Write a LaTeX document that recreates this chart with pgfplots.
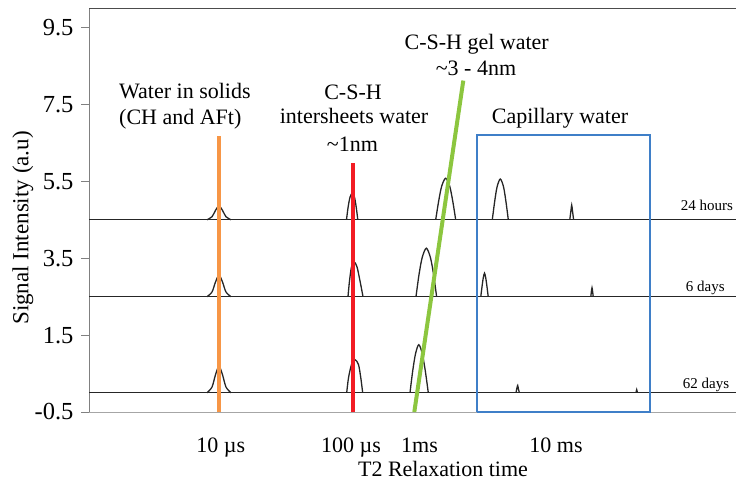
\documentclass[border=0pt]{standalone}
\usepackage{fontspec}
\setmainfont{Liberation Serif}
\usepackage{pgfplots}
\pgfplotsset{compat=1.18}
\definecolor{corange}{HTML}{F79646}
\definecolor{cred}{HTML}{F21C24}
\definecolor{cgreen}{HTML}{8CC63F}
\definecolor{cblue}{HTML}{3F7FC8}
\definecolor{trace}{HTML}{262626}
\begin{document}
\begin{tikzpicture}
\path[use as bounding box] (0pt,0pt) rectangle (736pt,482pt);
\begin{axis}[
 at={(89pt,70pt)}, anchor=south west,
 scale only axis, width=647pt, height=403.7pt,
 xmin=89, xmax=736, ymin=-0.5, ymax=10,
 axis x line*=bottom, axis y line*=left,
 x axis line style={-, draw=black!35, line width=0.8pt},
 y axis line style={-, draw=black!50, line width=0.8pt},
 ytick={-0.5,1.5,3.5,5.5,7.5,9.5},
 yticklabels={-0.5,1.5,3.5,5.5,7.5,9.5},
 yticklabel style={font=\fontsize{24.5}{28}\selectfont, xshift=-4pt},
 ytick style={draw=black!50, line width=0.8pt},
 tick align=outside, major tick length=8pt,
 xtick={220.8,351,419.5,556},
 xticklabels={10 µs,100 µs,1ms,10 ms},
 xtick style={draw=none},
 xticklabel style={font=\fontsize{22}{26}\selectfont, anchor=base, yshift=-33pt},
 clip=false,
 trc/.style={trace, line width=1.3pt},
 pk/.style={trace, line width=1.3pt, smooth},
]
\draw[black!70, line width=1pt] (rel axis cs:0,1) -- (rel axis cs:1,1);
% 24 hours
\addplot[trc] coordinates {(89,4.5) (736,4.5)};
\addplot[pk] coordinates {(207,4.5) (212,4.578) (215.5,4.745) (219,4.86) (222.5,4.745) (226,4.578) (231,4.5)};
\addplot[pk] coordinates {(346.5,4.5) (348,4.81) (350,5.087) (352.3,5.19) (354.5,5.087) (356.3,4.81) (357.8,4.5)};
\addplot[pk] coordinates {(435.7,4.5) (438.7,4.99) (441.7,5.374) (445.7,5.58) (449.7,5.374) (452.7,4.99) (455.7,4.5)};
\addplot[pk] coordinates {(492.3,4.5) (494.7,4.981) (497.1,5.358) (500.3,5.56) (503.5,5.358) (505.9,4.981) (508.3,4.5)};
\addplot[pk] coordinates {(569.8,4.5) (571,4.75) (571.7,4.88) (572.4,4.75) (573.6,4.5)};
% 6 days
\addplot[trc] coordinates {(89,2.5) (736,2.5)};
\addplot[pk] coordinates {(207,2.5) (212,2.621) (215.5,2.881) (219,3.06) (222.5,2.881) (226,2.621) (231,2.5)};
\addplot[pk] coordinates {(348,2.5) (349.5,2.91) (351.5,3.274) (354,3.41) (357,3.274) (360,2.91) (363,2.5)};
\addplot[pk] coordinates {(416,2.5) (419,3.072) (422.2,3.519) (426.3,3.76) (430.4,3.519) (433.6,3.072) (436.6,2.5)};
\addplot[pk] coordinates {(480.8,2.5) (482.1,2.777) (483.3,2.993) (484.5,3.11) (485.7,2.993) (486.9,2.777) (488.2,2.5)};
\addplot[pk] coordinates {(590.8,2.5) (591.6,2.68) (592,2.73) (592.4,2.68) (593.2,2.5)};
% 62 days
\addplot[trc] coordinates {(89,0) (736,0)};
\addplot[pk] coordinates {(207,0) (212,0.149) (215.5,0.469) (219,0.69) (222.5,0.469) (226,0.149) (231,0)};
\addplot[pk] coordinates {(346.7,0) (348.5,0.387) (351.5,0.731) (355,0.86) (358.5,0.731) (360.8,0.387) (362.7,0)};
\addplot[pk] coordinates {(410,0) (412.7,0.568) (415.5,1.011) (418.8,1.25) (422.3,1.011) (425.3,0.568) (428.3,0)};
\addplot[pk] coordinates {(516,0) (517,0.13) (517.7,0.19) (518.4,0.1) (519.4,0)};
\addplot[pk] coordinates {(636,0) (636.7,0.08) (637.4,0)};
% marker lines
\addplot[corange, line width=4pt] coordinates {(219,-0.5) (219,6.69)};
\addplot[cred, line width=4pt] coordinates {(353.3,-0.5) (353.3,5.98)};
\addplot[cgreen, line width=4pt] coordinates {(414.3,-0.5) (463.3,8.12)};
\addplot[cblue, line width=2.2pt] coordinates {(477.3,-0.5) (477.3,6.71) (650,6.71) (650,-0.5) (477.3,-0.5)};
\end{axis}
\begin{scope}[every node/.style={font=\fontsize{22}{26}\selectfont, inner sep=0pt}]
\node[anchor=base west] at (119pt,383.7pt) {Water in solids};
\node[anchor=base west] at (119pt,357pt) {(CH and AFt)};
\node[anchor=base] at (353pt,382.7pt) {C-S-H};
\node[anchor=base] at (354pt,358pt) {intersheets water};
\node[anchor=base] at (352.5pt,330.3pt) {\textasciitilde1nm};
\node[anchor=base] at (476.7pt,432.7pt) {C-S-H gel water};
\node[anchor=base] at (476pt,406pt) {\textasciitilde3 - 4nm};
\node[anchor=base] at (560pt,358.7pt) {Capillary water};
\node[anchor=base] at (443pt,6pt) {T2 Relaxation time};
\node[rotate=90, font=\fontsize{23}{27}\selectfont] at (23pt,254pt) {Signal Intensity (a.u)};
\end{scope}
\begin{scope}[every node/.style={font=\fontsize{15}{18}\selectfont, inner sep=0pt, anchor=base}]
\node at (707pt,271.3pt) {24 hours};
\node at (705.3pt,190.3pt) {6 days};
\node at (706pt,93.7pt) {62 days};
\end{scope}
\end{tikzpicture}
\end{document}
